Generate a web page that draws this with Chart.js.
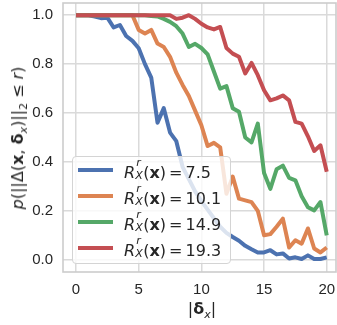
<!DOCTYPE html>
<html><head><meta charset="utf-8">
<script src="https://cdn.jsdelivr.net/npm/chart.js@4.4.0/dist/chart.umd.min.js"></script>
<style>
html,body{margin:0;padding:0;background:#fff;overflow:hidden;width:337px;height:325px;}
#wrap{position:relative;width:337px;height:325px;overflow:hidden;}
#c{position:absolute;left:0;top:0;}
.t{position:absolute;font-family:"DejaVu Sans",sans-serif;color:#262626;white-space:nowrap;line-height:1;}
.t i{font-style:italic;}
.t b{font-weight:bold;}
#ytitle{left:18px;top:138px;font-size:16px;transform:translate(-50%,-50%) rotate(-90deg);}
#xtitle{left:202px;top:309px;font-size:16px;transform:translate(-50%,-50%);}
.sub{font-size:11px;position:relative;top:4px;}
#legend{position:absolute;left:72px;top:156px;width:157px;height:106px;background:rgba(255,255,255,0.8);border:1px solid #d4d4d4;border-radius:4px;}
.row{position:absolute;left:0;height:20px;}
.swatch{position:absolute;left:5px;width:35px;height:4px;}
.lab{position:absolute;left:51px;font-family:"DejaVu Sans",sans-serif;font-size:16px;color:#262626;white-space:nowrap;line-height:1;word-spacing:-2px;}
.ss{display:inline-block;position:relative;width:8px;height:1em;}
.ss i{position:absolute;font-size:11px;}
</style></head>
<body><div id="wrap"><canvas id="c" width="337" height="325"></canvas>
<div class="t" id="ytitle"><i>p</i>(||Δ(<b>x</b>, <b>δ</b><span class="sub"><i>x</i></span>)||<span class="sub">2</span> ≤ <i>r</i>)</div>
<div class="t" id="xtitle">|<b>δ</b><span class="sub"><i>x</i></span>|</div>
<div id="legend"></div>
</div>
<script>
const xValues = [0,0.5,1,1.5,2,2.5,3,3.5,4,4.5,5,5.5,6,6.5,7,7.5,8,8.5,9,9.5,10,10.5,11,11.5,12,12.5,13,13.5,14,14.5,15,15.5,16,16.5,17,17.5,18,18.5,19,19.5,20];
const blueVals = [1,1,1,0.995,0.988,0.99,0.95,0.96,0.915,0.895,0.865,0.80,0.745,0.56,0.62,0.52,0.485,0.38,0.33,0.28,0.24,0.205,0.17,0.135,0.11,0.093,0.078,0.057,0.043,0.03,0.03,0.039,0.022,0.026,0.005,0.01,0.003,0.018,0.003,0.003,0.01];
const orangeVals = [1,1,1,1,1,1,1,1,1,1,0.94,0.925,0.94,0.884,0.87,0.83,0.765,0.715,0.67,0.61,0.55,0.465,0.478,0.46,0.27,0.34,0.25,0.243,0.236,0.2,0.1,0.105,0.135,0.168,0.05,0.08,0.066,0.128,0.046,0.03,0.05];
const greenVals = [1,1,1,1,1,1,1,1,1,1,1,1,0.997,0.995,0.985,0.973,0.955,0.925,0.87,0.883,0.866,0.84,0.77,0.70,0.71,0.62,0.605,0.50,0.48,0.557,0.355,0.29,0.37,0.385,0.335,0.325,0.26,0.215,0.202,0.236,0.10];
const redVals = [1,1,1,1,1,1,1,1,1,1,1,1,1,1,1,1,0.985,0.99,1.0,0.985,0.965,0.95,0.942,0.952,0.866,0.843,0.83,0.762,0.805,0.755,0.693,0.652,0.66,0.672,0.652,0.564,0.557,0.505,0.445,0.468,0.36];
const radii = ['7.5','10.1','14.9','19.3'];
const colors = ['#4C72B0','#DD8452','#55A868','#C44E52'];
const xTicks = [0,5,10,15,20];
const yTicks = [0,0.2,0.4,0.6,0.8,1.0];

const series = [blueVals, orangeVals, greenVals, redVals];

const framePlugin = {
  id:'frame',
  afterDatasetsDraw(chart){
    const a = chart.chartArea, c = chart.ctx;
    c.save(); c.strokeStyle = '#cccccc'; c.lineWidth = 1.6;
    c.strokeRect(a.left, a.top, a.right - a.left, a.bottom - a.top);
    c.restore();
  }
};

const tickFont = {family:'"Liberation Sans", Arial, sans-serif', size:15};

new Chart(document.getElementById('c'), {
  type:'line',
  data:{
    datasets: series.map((d,i)=>({
      label: radii[i],
      data: xValues.map((x,j)=>({x:x, y:d[j]})),
      borderColor: colors[i], backgroundColor: colors[i],
      borderWidth: 4, pointRadius: 0, tension: 0, fill:false,
      order: 3 - i, borderJoinStyle:'round', borderCapStyle:'butt'
    }))
  },
  options:{
    responsive:false, animation:false, devicePixelRatio:1,
    layout:{padding:{top:3,right:1,left:0,bottom:0}},
    plugins:{legend:{display:false}, tooltip:{enabled:false}},
    scales:{
      x:{
        type:'linear', min:-1.04, max:20.74,
        afterBuildTicks: s => { s.ticks = xTicks.map(v=>({value:v})); },
        afterFit: s => { s.height = 53; s.paddingLeft = 0; s.paddingRight = 0; },
        grid:{color:'#dadada', lineWidth:1.5, drawTicks:false},
        border:{display:false},
        ticks:{padding:9, font:tickFont, color:'#262626', maxRotation:0, callback: v => String(v)}
      },
      y:{
        min:-0.05, max:1.05,
        afterBuildTicks: s => { s.ticks = yTicks.map(v=>({value:v})); },
        afterFit: s => { s.width = 63; s.paddingTop = 0; s.paddingBottom = 0; },
        grid:{color:'#dadada', lineWidth:1.5, drawTicks:false},
        border:{display:false},
        ticks:{padding:10, font:tickFont, color:'#262626', callback: v => Number(v).toFixed(1)}
      }
    }
  },
  plugins:[framePlugin]
});

// HTML legend with math-style labels
const leg = document.getElementById('legend');
const rowTops = [13, 39, 65, 91];
radii.forEach((r,i)=>{
  const row = document.createElement('div');
  row.className = 'row';
  row.style.top = (rowTops[i] - 10) + 'px';
  row.style.width = '100%';
  const sw = document.createElement('div');
  sw.className = 'swatch'; sw.style.background = colors[i]; sw.style.top = '8px';
  const lab = document.createElement('div');
  lab.className = 'lab'; lab.style.top = '2px';
  lab.innerHTML = '<i>R</i><span class="ss"><i style="top:-5px;left:1px">r</i><i style="top:8px;left:0">X</i></span>(<b>x</b>) = ' + r;
  row.appendChild(sw); row.appendChild(lab); leg.appendChild(row);
});
</script></body></html>
